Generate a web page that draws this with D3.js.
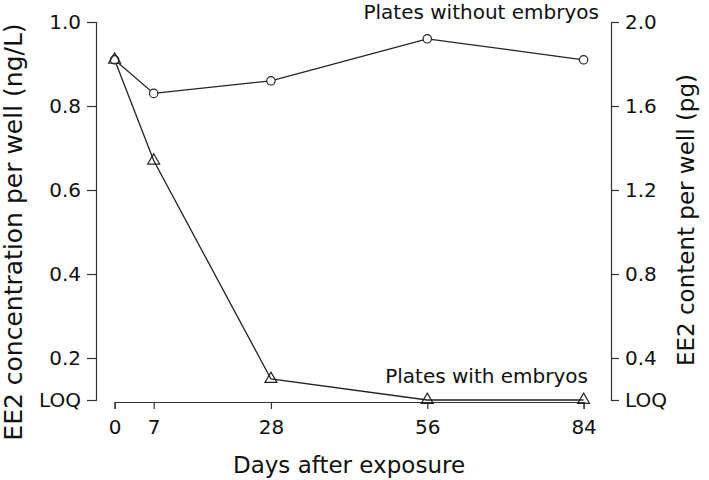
<!DOCTYPE html>
<html>
<head>
<meta charset="utf-8">
<script src="https://cdn.jsdelivr.net/npm/d3@7"></script>
<style>
  body { margin: 0; background: #fff; }
  svg text { font-family: "DejaVu Sans", Verdana, sans-serif; fill: #111; }
</style>
</head>
<body>
<svg id="chart" width="709" height="480"></svg>
<script>
// data
const days = [0, 7, 28, 56, 84];
const withoutEmbryos = [0.91, 0.83, 0.86, 0.96, 0.91];
const withEmbryos = [0.91, 0.67, 0.15, 0.1, 0.1];   // 0.1 = LOQ
const leftTicks = [0.1, 0.2, 0.4, 0.6, 0.8, 1.0];
const rightTicks = [0.2, 0.4, 0.8, 1.2, 1.6, 2.0];
const LOQ_LEFT = 0.1, LOQ_RIGHT = 0.2;

const svg = d3.select("#chart");
const ink = "#222";

const x = d3.scaleLinear().domain([0, 84]).range([114.6, 583.6]);
const y = d3.scaleLinear().domain([0.1, 1.0]).range([400, 22]);
const yR = d3.scaleLinear().domain([0.2, 2.0]).range([400, 22]);

function styleAxis(g, size) {
  g.selectAll("path, line").attr("stroke", "#333").attr("stroke-width", 1.2);
  g.selectAll("text").attr("font-size", size).attr("fill", "#111")
    .attr("font-family", "DejaVu Sans, Verdana, sans-serif");
}

// left axis
svg.append("g")
  .attr("transform", "translate(96,0)")
  .call(d3.axisLeft(y).tickValues(leftTicks).tickSizeOuter(0).tickSize(9).tickPadding(6)
    .tickFormat(d => d === LOQ_LEFT ? "LOQ" : d3.format(".1f")(d)))
  .call(g => styleAxis(g, 20));

// right axis
svg.append("g")
  .attr("transform", "translate(611,0)")
  .call(d3.axisRight(yR).tickValues(rightTicks).tickSizeOuter(0).tickSize(8).tickPadding(6)
    .tickFormat(d => d === LOQ_RIGHT ? "LOQ" : d3.format(".1f")(d)))
  .call(g => styleAxis(g, 20));

// bottom axis
svg.append("g")
  .attr("transform", "translate(0,402)")
  .call(d3.axisBottom(x).tickValues(days).tickSizeOuter(0).tickSize(7).tickPadding(11))
  .call(g => styleAxis(g, 20));

// axis titles
svg.append("text")
  .attr("transform", "translate(22,232) rotate(-90)")
  .attr("text-anchor", "middle")
  .attr("font-size", 25)
  .text("EE2 concentration per well (ng/L)");

svg.append("text")
  .attr("transform", "translate(694,220) rotate(-90)")
  .attr("text-anchor", "middle")
  .attr("font-size", 23)
  .text("EE2 content per well (pg)");

svg.append("text")
  .attr("x", 349).attr("y", 473)
  .attr("text-anchor", "middle")
  .attr("font-size", 23)
  .text("Days after exposure");

// series
const line = d3.line().x(d => x(d[0])).y(d => y(d[1]));
const ptsWithout = days.map((d, i) => [d, withoutEmbryos[i]]);
const ptsWith = days.map((d, i) => [d, withEmbryos[i]]);

svg.append("path").datum(ptsWithout).attr("d", line)
  .attr("fill", "none").attr("stroke", ink).attr("stroke-width", 1.3);
svg.append("path").datum(ptsWith).attr("d", line)
  .attr("fill", "none").attr("stroke", ink).attr("stroke-width", 1.3);

svg.selectAll("circle.pt").data(ptsWithout).enter().append("circle")
  .attr("class", "pt")
  .attr("cx", d => x(d[0])).attr("cy", d => y(d[1])).attr("r", 4.2)
  .attr("fill", "#fff").attr("stroke", ink).attr("stroke-width", 1.2);

const tri = d3.symbol().type(d3.symbolTriangle).size(62);
svg.selectAll("path.tri").data(ptsWith).enter().append("path")
  .attr("class", "tri")
  .attr("d", tri)
  .attr("transform", d => `translate(${x(d[0])},${y(d[1])})`)
  .attr("fill", "none").attr("stroke", ink).attr("stroke-width", 1.2);

// series labels
svg.append("text")
  .attr("x", 599).attr("y", 19).attr("text-anchor", "end")
  .attr("font-size", 20).text("Plates without embryos");
svg.append("text")
  .attr("x", 588).attr("y", 383).attr("text-anchor", "end")
  .attr("font-size", 20).text("Plates with embryos");
</script>
</body>
</html>
